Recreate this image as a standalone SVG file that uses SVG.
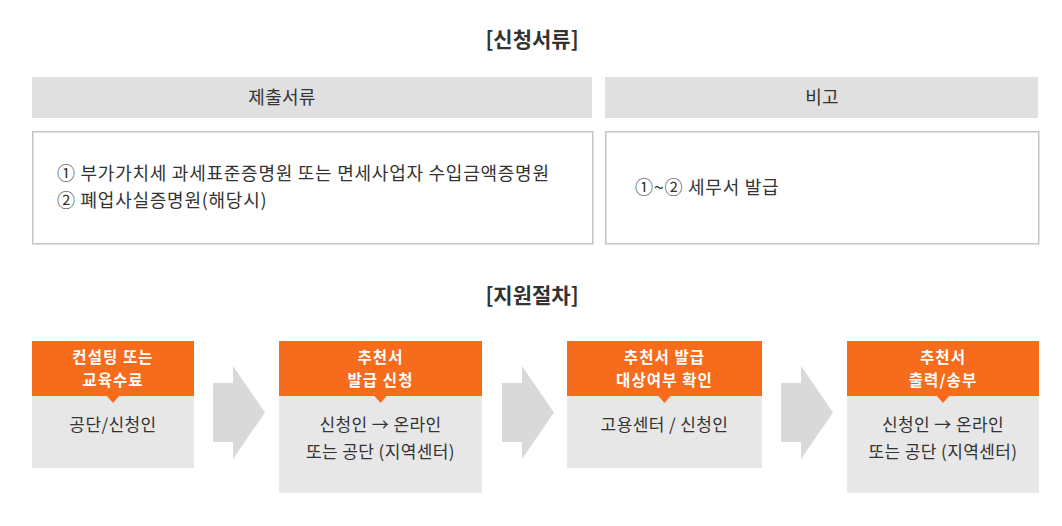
<svg xmlns="http://www.w3.org/2000/svg" width="1062" height="526" viewBox="0 0 1062 526">
<style>
text{font-family:"Noto Sans CJK KR","Noto Sans",sans-serif;}
.title{font-size:21px;font-weight:bold;fill:#333;text-anchor:middle;}
.hdr{fill:#e0e0e0;}
.hdrt{font-size:18px;fill:#333;text-anchor:middle;letter-spacing:0.3px;}
.box{fill:#fff;stroke:#c4c4c4;stroke-width:1.5;}
.ct{font-size:18px;fill:#333;letter-spacing:0.75px;}
.or{fill:#f76b1c;}
.body{fill:#e7e7e7;}
.ot{font-size:15.5px;font-weight:bold;fill:#fff;text-anchor:middle;letter-spacing:1.1px;}
.bt{font-size:17px;fill:#333;text-anchor:middle;letter-spacing:0.4px;}
.arr{fill:#d9d9d9;}
</style>
<g id="title-docs"><text class="title" x="532" y="47">[신청서류]</text></g>
<g id="hdr-submit"><rect class="hdr" x="32" y="77" width="560" height="41"/><text class="hdrt" x="282" y="104">제출서류</text></g>
<g id="hdr-note"><rect class="hdr" x="605" y="77" width="433" height="41"/><text class="hdrt" x="822" y="104">비고</text></g>
<g id="box-submit"><rect class="box" x="32.75" y="131.75" width="560" height="112"/>
<text class="ct" x="57" y="180">① 부가가치세 과세표준증명원 또는 면세사업자 수입금액증명원</text>
<text class="ct" x="57" y="207">② 폐업사실증명원(해당시)</text></g>
<g id="box-note"><rect class="box" x="605.75" y="131.75" width="433" height="112"/>
<text class="ct" x="635" y="194">①~② 세무서 발급</text></g>
<g id="title-proc"><text class="title" x="532" y="303">[지원절차]</text></g>
<g id="connectors">
<path class="arr" d="M213,383 H233 V366 L265,412.5 L233,459 V442 H213 Z"/>
<path class="arr" d="M502,383 H522 V366 L554,412.5 L522,459 V442 H502 Z"/>
<path class="arr" d="M781,383 H801 V366 L833,412.5 L801,459 V442 H781 Z"/>
</g>
<g id="step1"><rect class="body" x="32" y="396" width="162" height="72"/><rect class="or" x="32" y="341" width="162" height="55"/><path class="or" d="M106,395 L120,395 L113,403 Z"/>
<text class="ot" x="113" y="363">컨설팅 또는</text><text class="ot" x="113" y="386">교육수료</text>
<text class="bt" x="113" y="431">공단/신청인</text></g>
<g id="step2"><rect class="body" x="279" y="396" width="203" height="97"/><rect class="or" x="279" y="341" width="203" height="55"/><path class="or" d="M373.5,395 L387.5,395 L380.5,403 Z"/>
<text class="ot" x="380.5" y="363">추천서</text><text class="ot" x="380.5" y="386">발급 신청</text>
<text class="bt" x="380.5" y="431">신청인 → 온라인</text><text class="bt" x="380.5" y="458">또는 공단 (지역센터)</text></g>
<g id="step3"><rect class="body" x="567" y="396" width="195" height="72"/><rect class="or" x="567" y="341" width="195" height="55"/><path class="or" d="M657.5,395 L671.5,395 L664.5,403 Z"/>
<text class="ot" x="664.5" y="363">추천서 발급</text><text class="ot" x="664.5" y="386">대상여부 확인</text>
<text class="bt" x="664.5" y="431">고용센터 / 신청인</text></g>
<g id="step4"><rect class="body" x="847" y="396" width="192" height="97"/><rect class="or" x="847" y="341" width="192" height="55"/><path class="or" d="M936,395 L950,395 L943,403 Z"/>
<text class="ot" x="943" y="363">추천서</text><text class="ot" x="943" y="386">출력/송부</text>
<text class="bt" x="943" y="431">신청인 → 온라인</text><text class="bt" x="943" y="458">또는 공단 (지역센터)</text></g>
</svg>
